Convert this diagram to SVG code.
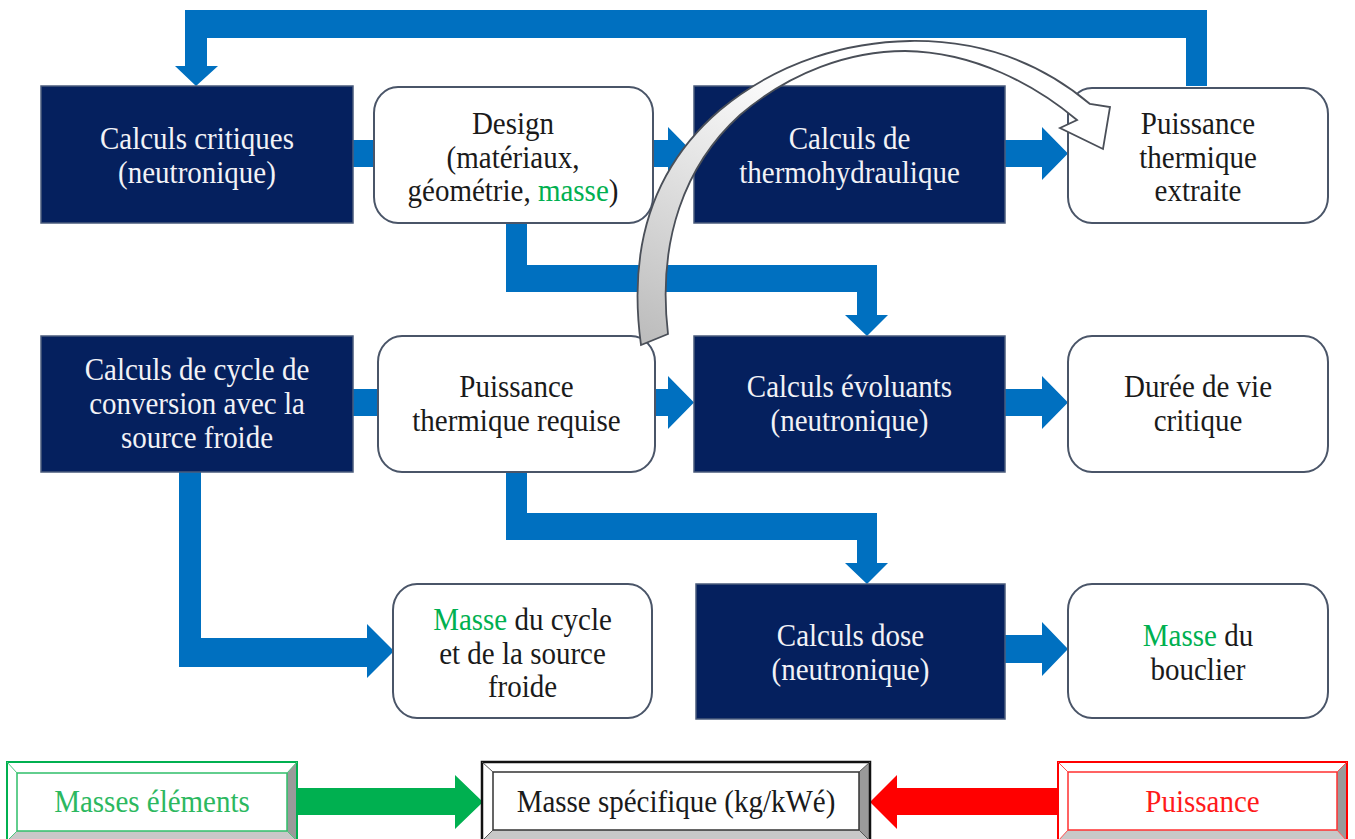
<svg xmlns="http://www.w3.org/2000/svg" width="1355" height="839" viewBox="0 0 1355 839">
<defs>
<style>
.dark{fill:#05205e;stroke:#4a5b7c;stroke-width:1.5}
.light{fill:#ffffff;stroke:#4a5568;stroke-width:2}
.t{font-family:"Liberation Serif","Times New Roman",serif;font-size:29px;text-anchor:middle;transform-box:fill-box;transform-origin:center;transform:scaleY(1.1)}
.tw{fill:#f2f2f6}
.tb{fill:#1a1a1a}
.g{fill:#00b050}
.blue{fill:#0070c0}
</style>
<linearGradient id="cg" gradientUnits="userSpaceOnUse" x1="650" y1="340" x2="790" y2="70">
<stop offset="0" stop-color="#bdbdbd"/>
<stop offset="0.55" stop-color="#e2e2e2"/>
<stop offset="1" stop-color="#ffffff"/>
</linearGradient>
</defs>
<rect width="1355" height="839" fill="#ffffff"/>

<g id="connectors">
<polygon class="blue" points="1207,86 1207,10 185,10 185,66 175,66 196,86 218,66 207,66 207,38 1186,38 1186,86"/>
<rect class="blue" x="352" y="140" width="23" height="27"/>
<polygon class="blue" points="652,140 668,140 668,127 694,153.5 668,180 668,167 652,167"/>
<polygon class="blue" points="1005,140 1042,140 1042,127 1068,153.5 1042,180 1042,167 1005,167"/>
<polygon class="blue" points="506,222 527,222 527,265 877,265 877,315 888,315 867,336 845,315 857,315 857,292 506,292"/>
<rect class="blue" x="352" y="389" width="27" height="27"/>
<polygon class="blue" points="654,389 668,389 668,376 694,402.5 668,429 668,416 654,416"/>
<polygon class="blue" points="1005,389 1042,389 1042,376 1068,402.5 1042,429 1042,416 1005,416"/>
<polygon class="blue" points="506,471 527,471 527,513 877,513 877,563 888,563 867,584 845,563 857,563 857,540 506,540"/>
<polygon class="blue" points="179,471 201,471 201,638 367,638 367,624 394,651 367,678 367,667 179,667"/>
<polygon class="blue" points="1005,635 1042,635 1042,622 1068,649 1042,676 1042,663 1005,663"/>
<polygon fill="#00b050" points="296,788 455,788 455,775 483,802 455,829 455,815 296,815"/>
<polygon fill="#ff0000" points="1062,788 897,788 897,775 870,802 897,829 897,815 1062,815"/>
</g>

<g id="n1"><rect class="dark" x="41" y="86" width="312" height="137"/>
<text class="t tw" x="197" y="148">Calculs critiques</text>
<text class="t tw" x="197" y="182">(neutronique)</text></g>

<g id="n2"><rect class="light" x="374" y="87" width="279" height="136" rx="24" ry="26"/>
<text class="t tb" x="513" y="133">Design</text>
<text class="t tb" x="513" y="167">(matériaux,</text>
<text class="t tb" x="513" y="200">géométrie, <tspan class="g">masse</tspan>)</text></g>

<g id="n3"><rect class="dark" x="694" y="86" width="311" height="137"/>
<text class="t tw" x="849.5" y="148">Calculs de</text>
<text class="t tw" x="849.5" y="182">thermohydraulique</text></g>

<g id="n4"><rect class="light" x="1068" y="88" width="260" height="135" rx="24" ry="26"/>
<text class="t tb" x="1198" y="133">Puissance</text>
<text class="t tb" x="1198" y="167">thermique</text>
<text class="t tb" x="1198" y="200">extraite</text></g>

<g id="n5"><rect class="dark" x="41" y="336" width="312" height="136"/>
<text class="t tw" x="197" y="379">Calculs de cycle de</text>
<text class="t tw" x="197" y="413">conversion avec la</text>
<text class="t tw" x="197" y="447">source froide</text></g>

<g id="n6"><rect class="light" x="378" y="336" width="277" height="136" rx="24" ry="26"/>
<text class="t tb" x="516.5" y="396">Puissance</text>
<text class="t tb" x="516.5" y="430">thermique requise</text></g>

<g id="n7"><rect class="dark" x="694" y="336" width="311" height="136"/>
<text class="t tw" x="849.5" y="396">Calculs évoluants</text>
<text class="t tw" x="849.5" y="430">(neutronique)</text></g>

<g id="n8"><rect class="light" x="1068" y="336" width="260" height="136" rx="24" ry="26"/>
<text class="t tb" x="1198" y="396">Durée de vie</text>
<text class="t tb" x="1198" y="430">critique</text></g>

<g id="n9"><rect class="light" x="393" y="584" width="259" height="134" rx="24" ry="26"/>
<text class="t tb" x="522.5" y="629"><tspan class="g">Masse</tspan> du cycle</text>
<text class="t tb" x="522.5" y="663">et de la source</text>
<text class="t tb" x="522.5" y="696">froide</text></g>

<g id="n10"><rect class="dark" x="696" y="584" width="309" height="135"/>
<text class="t tw" x="850.5" y="645">Calculs dose</text>
<text class="t tw" x="850.5" y="679">(neutronique)</text></g>

<g id="n11"><rect class="light" x="1068" y="584" width="260" height="134" rx="24" ry="26"/>
<text class="t tb" x="1198" y="645"><tspan class="g">Masse</tspan> du</text>
<text class="t tb" x="1198" y="679">bouclier</text></g>

<g id="n12">
<polygon fill="#ffffff" points="7,762 297,762 287,773 17,773"/>
<polygon fill="#ffffff" points="7,762 17,773 17,831 7,841"/>
<polygon fill="#9a9a9a" points="297,762 297,841 287,831 287,773"/>
<polygon fill="#c8c8c8" points="7,841 297,841 287,831 17,831"/>
<rect x="17" y="773" width="270" height="58" fill="#ffffff" stroke="#2fbf6a" stroke-width="1.5"/>
<rect x="7" y="762" width="290" height="79" fill="none" stroke="#00b050" stroke-width="2"/>
<path d="M7,762 L17,773 M297,762 L287,773 M7,841 L17,831 M297,841 L287,831" stroke="#4fc87f" stroke-width="1"/>
<text class="t" fill="#2cb860" x="152" y="811">Masses éléments</text></g>

<g id="n13">
<polygon fill="#ffffff" points="482,762 870,762 859,772 493,772"/>
<polygon fill="#ffffff" points="482,762 493,772 493,830 482,841"/>
<polygon fill="#9a9a9a" points="870,762 870,841 859,830 859,772"/>
<polygon fill="#c8c8c8" points="482,841 870,841 859,830 493,830"/>
<rect x="493" y="772" width="366" height="58" fill="#ffffff" stroke="#333333" stroke-width="1.5"/>
<rect x="482" y="762" width="388" height="79" fill="none" stroke="#111111" stroke-width="2.5"/>
<path d="M482,762 L493,772 M870,762 L859,772 M482,841 L493,830 M870,841 L859,830" stroke="#555555" stroke-width="1"/>
<text class="t tb" x="676" y="811">Masse spécifique (kg/kWé)</text></g>

<g id="n14">
<polygon fill="#ffffff" points="1058,762 1347,762 1337,772 1068,772"/>
<polygon fill="#ffffff" points="1058,762 1068,772 1068,830 1058,841"/>
<polygon fill="#9a9a9a" points="1347,762 1347,841 1337,830 1337,772"/>
<polygon fill="#c8c8c8" points="1058,841 1347,841 1337,830 1068,830"/>
<rect x="1068" y="772" width="269" height="58" fill="#ffffff" stroke="#ff3030" stroke-width="1.5"/>
<rect x="1058" y="762" width="289" height="79" fill="none" stroke="#ff0000" stroke-width="2"/>
<path d="M1058,762 L1068,772 M1347,762 L1337,772 M1058,841 L1068,830 M1347,841 L1337,830" stroke="#ff5050" stroke-width="1"/>
<text class="t" fill="#ff1a1a" x="1202.5" y="811">Puissance</text></g>

<g id="curved-arrow">
<path d="M641,345 C628,250 650,170 720,110 C780,60 850,42 910,41 C980,40 1040,62 1090,104 L1110,107 L1103,149 L1060,128 L1077,120 C1035,85 975,52 905,51 C850,51 790,72 740,115 C685,165 657,240 668,334 Z" fill="url(#cg)" stroke="#4a4f58" stroke-width="1.8" stroke-linejoin="miter"/>
</g>
</svg>
